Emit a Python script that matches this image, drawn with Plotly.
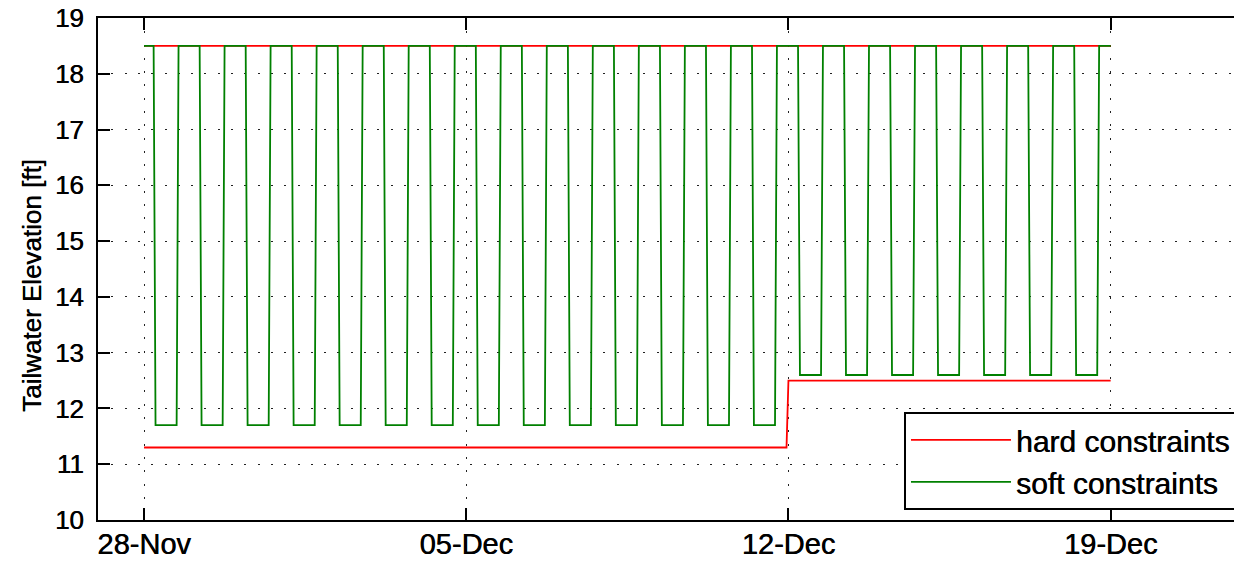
import pandas as pd
import plotly.graph_objects as go

# ---- data -------------------------------------------------------------
start_day = "2012-11-28"
n_days = 21

# tailwater level while the plant is idle (ft)
high_level = 18.5
# daily minimum tailwater under the soft-constraint schedule (ft), one value per day
soft_daily_low = [11.7, 11.7, 11.7, 11.7, 11.7, 11.7, 11.7,
                  11.7, 11.7, 11.7, 11.7, 11.7, 11.7, 11.7,
                  12.6, 12.6, 12.6, 12.6, 12.6, 12.6, 12.6]
# hours of each day during which the soft schedule sits at its daily minimum
soft_low_hours = [6, 7, 8, 9, 10, 11, 12, 13, 14, 15, 16, 17]

# hard constraint bounds (ft), one lower bound per day
hard_upper = 18.5
hard_daily_lower = [11.3, 11.3, 11.3, 11.3, 11.3, 11.3, 11.3,
                    11.3, 11.3, 11.3, 11.3, 11.3, 11.3, 11.3,
                    12.5, 12.5, 12.5, 12.5, 12.5, 12.5, 12.5]

tick_dates = ["2012-11-28", "2012-12-05", "2012-12-12", "2012-12-19"]
y_ticks = [10, 11, 12, 13, 14, 15, 16, 17, 18, 19]

# ---- hourly series ----------------------------------------------------
times = pd.date_range(start_day, periods=n_days * 24 + 1, freq="h")
soft, hard_lo, hard_hi = [], [], []
for t in times:
    d = min((t - times[0]).days, n_days - 1)
    if t == times[-1]:
        soft.append(high_level)
    else:
        soft.append(soft_daily_low[d] if t.hour in soft_low_hours else high_level)
    hard_lo.append(hard_daily_lower[d])
    hard_hi.append(hard_upper)

font_family = "Liberation Sans, Arial, Helvetica, sans-serif"
heavy = "0.5px 0px 0px black"

fig = go.Figure()
fig.add_trace(go.Scatter(
    x=times, y=hard_lo, mode="lines", name="hard constraints",
    legendgroup="hard", line=dict(color="#ff0000", width=1.8)))
fig.add_trace(go.Scatter(
    x=times, y=hard_hi, mode="lines", name="hard constraints",
    legendgroup="hard", showlegend=False,
    line=dict(color="#ff0000", width=1.8)))
fig.add_trace(go.Scatter(
    x=times, y=soft, mode="lines", name="soft constraints",
    line=dict(color="#008000", width=1.8)))

# the axes box runs on past the right edge of the page
fig.update_layout(
    width=1260, height=561, autosize=False,
    margin=dict(l=98, r=16, t=18, b=41, autoexpand=False),
    paper_bgcolor="white", plot_bgcolor="white",
    font=dict(family=font_family, color="black", size=26),
    showlegend=True,
    legend=dict(x=0.7033, y=0.02, xanchor="left", yanchor="bottom",
                bgcolor="white", bordercolor="black", borderwidth=2,
                font=dict(size=30, family=font_family, color="black", shadow=heavy),
                itemwidth=100, tracegroupgap=0),
    annotations=[dict(
        text="Tailwater Elevation [ft]", textangle=-90,
        xref="paper", yref="paper", x=-0.0576, y=0.468,
        xanchor="center", yanchor="middle", showarrow=False,
        font=dict(size=26, family=font_family, color="black", shadow=heavy))],
)

fig.update_xaxes(
    range=["2012-11-27 00:00", "2012-12-21 21:32"],
    tickvals=tick_dates, tickformat="%d-%b",
    tickfont=dict(size=29, shadow=heavy),
    ticklabelstandoff=-3,
    ticks="inside", ticklen=12, tickwidth=2, tickcolor="black",
    showline=True, linecolor="black", linewidth=2, mirror="ticks",
    showgrid=True, gridcolor="#222222", gridwidth=1, griddash="2px,11.3px",
    zeroline=False,
)
fig.update_yaxes(
    range=[10, 19], tickvals=y_ticks,
    tickfont=dict(size=26, shadow=heavy),
    ticks="inside", ticklen=12, tickwidth=2, tickcolor="black",
    ticklabelstandoff=7,
    showline=True, linecolor="black", linewidth=2, mirror=False,
    showgrid=True, gridcolor="#222222", gridwidth=1, griddash="2px,11.3px",
    zeroline=False,
)

fig.write_html("out.html")
